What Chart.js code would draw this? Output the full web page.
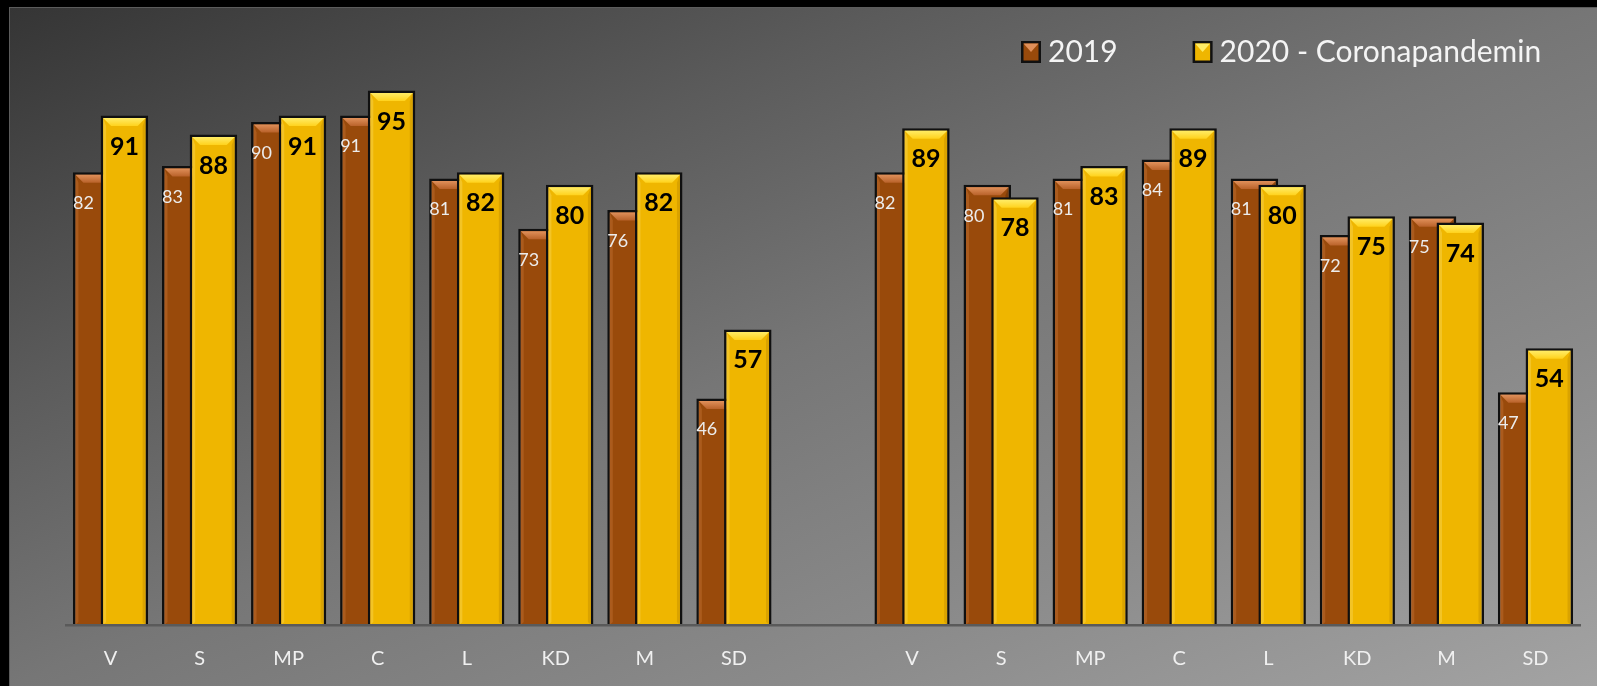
<!DOCTYPE html>
<html>
<head>
<meta charset="utf-8">
<script src="https://cdn.jsdelivr.net/npm/chart.js@4.4.1/dist/chart.umd.min.js"></script>
<style>
html,body{margin:0;padding:0;background:#000;}
#wrap{position:relative;width:1597px;height:686px;overflow:hidden;background:#000;}
#bg{position:absolute;left:9px;top:7px;right:0;bottom:0;
  background:linear-gradient(to bottom right,#353535 0%,#5b5b5b 28%,#767676 50%,#8b8b8b 75%,#a3a3a3 100%);
  border-left:1px solid #5c5c5c;border-top:1px solid #5c5c5c;}
canvas{position:absolute;left:0;top:0;}
</style>
</head>
<body>
<div id="wrap"><div id="bg"></div><canvas id="c" width="1597" height="686"></canvas></div>
<script>
// ---- data ----
const categories = ['V','S','MP','C','L','KD','M','SD','','V','S','MP','C','L','KD','M','SD'];
const values2019 = [82,83,90,91,81,73,76,46,null,82,80,81,84,81,72,75,47];
const values2020 = [91,88,91,95,82,80,82,57,null,89,78,83,89,80,75,74,54];
const seriesNames = ['2019','2020 - Coronapandemin'];
const axisMin = 10, axisMax = 100;

// ---- styles ----
const FONT = 'Lato, "Open Sans", sans-serif';
const palette = [
  {body:'#994a0b', topA:'#e0905a', topB:'#b9622a', sideL:'rgba(255,170,110,0.18)', sideR:'rgba(0,0,0,0.18)', label:'#ececec', font:'18px '+FONT},
  {body:'#efb600', topA:'#ffec66', topB:'#ffd21c', sideL:'rgba(255,240,150,0.25)', sideR:'rgba(120,80,0,0.18)', label:'#000000', font:'bold 25px '+FONT}
];
const BORDER = 2.5;

function drawBevels(ctx, meta, i, data){
  const p = palette[i];
  meta.data.forEach((el, j) => {
    if (data[j] == null) return;
    const {x, y, base, width} = el.getProps(['x','y','base','width'], true);
    const l = x - width/2 + BORDER, r = x + width/2 - BORDER, t = y + BORDER, b = base;
    const d = 8;
    ctx.save();
    const g = ctx.createLinearGradient(0, t, 0, t + d);
    g.addColorStop(0, p.topA); g.addColorStop(1, p.topB);
    ctx.fillStyle = g;
    ctx.beginPath();
    ctx.moveTo(l, t); ctx.lineTo(r, t); ctx.lineTo(r - d, t + d); ctx.lineTo(l + d, t + d); ctx.closePath();
    ctx.fill();
    ctx.fillStyle = p.sideL;
    ctx.beginPath();
    ctx.moveTo(l, t); ctx.lineTo(l + 3, t + d); ctx.lineTo(l + 3, b - 3); ctx.lineTo(l, b); ctx.closePath();
    ctx.fill();
    ctx.fillStyle = p.sideR;
    ctx.beginPath();
    ctx.moveTo(r, t); ctx.lineTo(r - 3, t + d); ctx.lineTo(r - 3, b - 3); ctx.lineTo(r, b); ctx.closePath();
    ctx.fill();
    ctx.restore();
  });
}

const customDraw = {
  id: 'customDraw',
  beforeDatasetsDraw(chart){
    const ctx = chart.ctx;
    const a = chart.chartArea;
    ctx.save();
    ctx.beginPath();
    ctx.rect(a.left, 0, a.right - a.left, a.bottom);
    ctx.clip();
    for (let i = 0; i < chart.data.datasets.length; i++) {
      const meta = chart.getDatasetMeta(i);
      if (!meta.visible) continue;
      meta.controller.draw();
      drawBevels(ctx, meta, i, chart.data.datasets[i].data);
    }
    ctx.restore();
    return false;
  },
  afterDraw(chart){
    const ctx = chart.ctx;
    chart.data.datasets.forEach((ds, i) => {
      const meta = chart.getDatasetMeta(i);
      const p = palette[i];
      ctx.save();
      ctx.font = p.font;
      ctx.fillStyle = p.label;
      ctx.textAlign = 'center';
      ctx.textBaseline = 'middle';
      meta.data.forEach((el, j) => {
        const v = ds.data[j];
        if (v == null) return;
        const {x, y, width} = el.getProps(['x','y','width'], true);
        const tx = i === 0 ? x - width/2 + 10.5 : x;
        ctx.fillText(String(v), tx, y + 31);
      });
      ctx.restore();
    });
    // legend
    ctx.save();
    ctx.font = '30px ' + FONT;
    ctx.textBaseline = 'middle';
    ctx.textAlign = 'left';
    let lx = 1021;
    const by = 41, bw = 20, bh = 22;
    chart.data.datasets.forEach((ds, i) => {
      const p = palette[i];
      ctx.fillStyle = '#111';
      ctx.fillRect(lx, by, bw, bh);
      ctx.fillStyle = p.body;
      ctx.fillRect(lx + 2.5, by + 2.5, bw - 5, bh - 5);
      ctx.fillStyle = p.topA;
      ctx.beginPath();
      ctx.moveTo(lx + 2.5, by + 2.5); ctx.lineTo(lx + bw - 2.5, by + 2.5); ctx.lineTo(lx + bw/2, by + bh*0.5); ctx.closePath();
      ctx.fill();
      ctx.fillStyle = '#f4f4f4';
      ctx.fillText(ds.label, lx + bw + 7, by + bh/2 + 0.5);
      lx += bw + 7 + ctx.measureText(ds.label).width + 75;
    });
    ctx.restore();
  }
};

new Chart(document.getElementById('c'), {
  type: 'bar',
  data: {
    labels: categories,
    datasets: [
      {label: seriesNames[0], data: values2019, base: axisMin, backgroundColor: palette[0].body, borderColor: '#101010', borderWidth: BORDER, borderSkipped: 'bottom'},
      {label: seriesNames[1], data: values2020, base: axisMin, backgroundColor: palette[1].body, borderColor: '#101010', borderWidth: BORDER, borderSkipped: 'bottom'}
    ]
  },
  options: {
    responsive: false,
    animation: false,
    events: [],
    categoryPercentage: 0.622,
    barPercentage: 1.715,
    layout: {padding: {left: 66, right: 17, top: 59, bottom: 0}},
    plugins: {legend: {display: false}, tooltip: {enabled: false}},
    scales: {
      x: {
        grid: {display: false},
        border: {display: true, color: '#5a5a5a', width: 2.5, z: 1},
        ticks: {color: '#f0f0f0', font: {family: FONT, size: 20}, padding: 13.5, maxRotation: 0, autoSkip: false},
        afterFit(scale){ scale.height = 61; }
      },
      y: {display: false, min: axisMin, max: axisMax, stacked: false}
    }
  },
  plugins: [customDraw]
});
</script>
</body>
</html>
